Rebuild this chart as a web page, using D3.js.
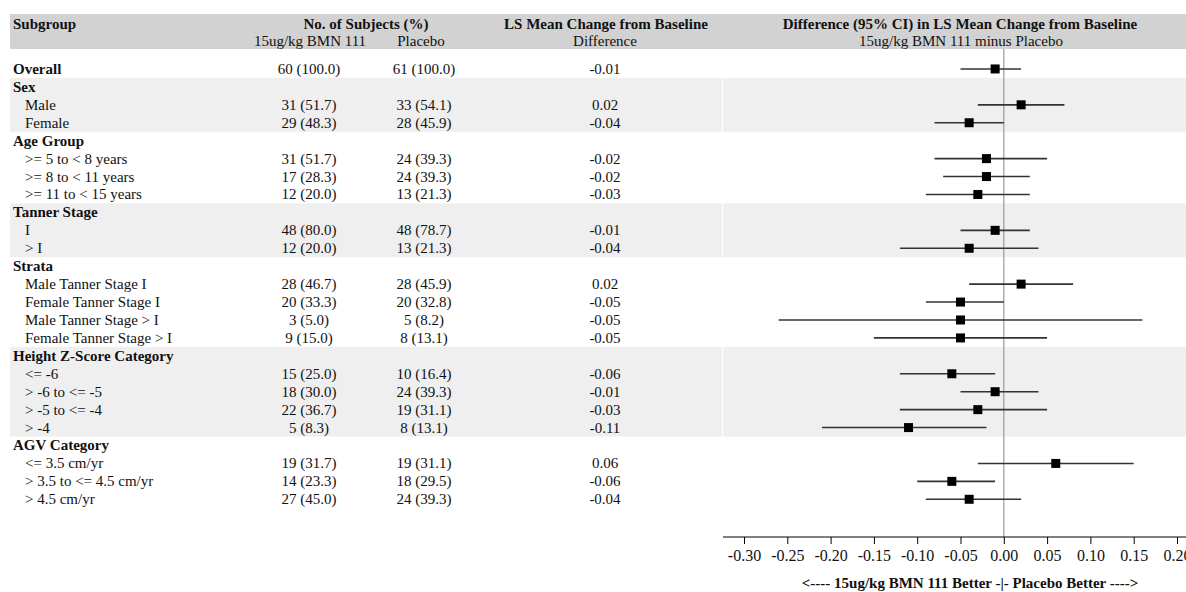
<!DOCTYPE html>
<html>
<head>
<meta charset="utf-8">
<script src="https://cdn.jsdelivr.net/npm/d3@7"></script>
<style>
  body { margin: 0; background: #fff; }
  svg { display: block; font-family: "Liberation Serif", "Times New Roman", serif; }
</style>
</head>
<body>
<svg width="1186" height="592"></svg>
<script>
// rows of the table, top to bottom
var subgroups = ["Overall", "Sex", "Male", "Female", "Age Group",
  ">= 5 to < 8 years", ">= 8 to < 11 years", ">= 11 to < 15 years",
  "Tanner Stage", "I", "> I", "Strata",
  "Male Tanner Stage I", "Female Tanner Stage I", "Male Tanner Stage > I", "Female Tanner Stage > I",
  "Height Z-Score Category", "<= -6", "> -6 to <= -5", "> -5 to <= -4", "> -4",
  "AGV Category", "<= 3.5 cm/yr", "> 3.5 to <= 4.5 cm/yr", "> 4.5 cm/yr"]
var boldRows = ["Overall", "Sex", "Age Group", "Tanner Stage", "Strata", "Height Z-Score Category", "AGV Category"]
var shadedGroups = [["Sex", "Female"], ["Tanner Stage", "> I"], ["Height Z-Score Category", "> -4"]]

var nDrug = ["60 (100.0)", "", "31 (51.7)", "29 (48.3)", "", "31 (51.7)", "17 (28.3)", "12 (20.0)",
  "", "48 (80.0)", "12 (20.0)", "", "28 (46.7)", "20 (33.3)", "3 (5.0)", "9 (15.0)",
  "", "15 (25.0)", "18 (30.0)", "22 (36.7)", "5 (8.3)", "", "19 (31.7)", "14 (23.3)", "27 (45.0)"]
var nPlacebo = ["61 (100.0)", "", "33 (54.1)", "28 (45.9)", "", "24 (39.3)", "24 (39.3)", "13 (21.3)",
  "", "48 (78.7)", "13 (21.3)", "", "28 (45.9)", "20 (32.8)", "5 (8.2)", "8 (13.1)",
  "", "10 (16.4)", "24 (39.3)", "19 (31.1)", "8 (13.1)", "", "19 (31.1)", "18 (29.5)", "24 (39.3)"]
var diff = [-0.01, null, 0.02, -0.04, null, -0.02, -0.02, -0.03,
  null, -0.01, -0.04, null, 0.02, -0.05, -0.05, -0.05,
  null, -0.06, -0.01, -0.03, -0.11, null, 0.06, -0.06, -0.04]
var lower = [-0.05, null, -0.03, -0.08, null, -0.08, -0.07, -0.09,
  null, -0.05, -0.12, null, -0.04, -0.09, -0.26, -0.15,
  null, -0.12, -0.05, -0.12, -0.21, null, -0.03, -0.10, -0.09]
var upper = [0.02, null, 0.07, 0.00, null, 0.05, 0.03, 0.03,
  null, 0.03, 0.04, null, 0.08, 0.00, 0.16, 0.05,
  null, -0.01, 0.04, 0.05, -0.02, null, 0.15, -0.01, 0.02]
var xTicks = [-0.30, -0.25, -0.20, -0.15, -0.10, -0.05, 0.00, 0.05, 0.10, 0.15, 0.20]

var svg = d3.select("svg")
var rows = subgroups.map((s, i) => ({ label: s, i: i, bold: boldRows.includes(s),
  n1: nDrug[i], n2: nPlacebo[i], est: diff[i], lo: lower[i], hi: upper[i] }))

var yScale = d3.scaleBand()
  .domain(d3.range(subgroups.length))
  .range([60, 60 + 17.93 * subgroups.length])
var xScale = d3.scaleLinear()
  .domain([-0.30, 0.20])
  .range([744, 1177])
var cy = i => yScale(i) + yScale.bandwidth() / 2

// header band
svg.append("rect")
  .attr("x", 10).attr("y", 14)
  .attr("width", 1176).attr("height", 35)
  .attr("fill", "#d2d2d2")

// shaded groups
shadedGroups.forEach(g => {
  var a = subgroups.indexOf(g[0]), b = subgroups.indexOf(g[1])
  svg.append("rect")
    .attr("x", 10).attr("y", yScale(a))
    .attr("width", 1176).attr("height", yScale(b) + yScale.bandwidth() - yScale(a))
    .attr("fill", "#efefef")
})
svg.append("line")
  .attr("x1", 722.5).attr("x2", 722.5)
  .attr("y1", 49).attr("y2", yScale(subgroups.length - 1))
  .attr("stroke", "#fff").attr("stroke-width", 1)

// header texts
var head = svg.append("g").attr("fill", "#111").attr("font-size", 15)
head.append("text").attr("x", 13).attr("y", 28.5).attr("font-weight", "bold").text("Subgroup")
head.append("text").attr("x", 366).attr("y", 28.5).attr("font-weight", "bold")
  .attr("text-anchor", "middle").text("No. of Subjects (%)")
head.append("text").attr("x", 310).attr("y", 46).attr("text-anchor", "middle").text("15ug/kg BMN 111")
head.append("text").attr("x", 421).attr("y", 46).attr("text-anchor", "middle").text("Placebo")
head.append("text").attr("x", 606).attr("y", 28.5).attr("font-weight", "bold")
  .attr("text-anchor", "middle").text("LS Mean Change from Baseline")
head.append("text").attr("x", 605).attr("y", 46).attr("text-anchor", "middle").text("Difference")
head.append("text").attr("x", 960).attr("y", 28.5).attr("font-weight", "bold")
  .attr("text-anchor", "middle").text("Difference (95% CI) in LS Mean Change from Baseline")
head.append("text").attr("x", 961).attr("y", 46).attr("text-anchor", "middle").text("15ug/kg BMN 111 minus Placebo")

// table body
var body = svg.append("g").attr("fill", "#111").attr("font-size", 15)
var rowG = body.selectAll("g.row").data(rows).enter().append("g")
  .attr("transform", d => "translate(0," + (cy(d.i) + 5) + ")")
rowG.append("text")
  .attr("x", d => d.bold ? 13 : 25)
  .attr("font-weight", d => d.bold ? "bold" : "normal")
  .text(d => d.label)
rowG.append("text").attr("x", 309).attr("text-anchor", "middle").text(d => d.n1)
rowG.append("text").attr("x", 424).attr("text-anchor", "middle").text(d => d.n2)
rowG.append("text").attr("x", 605).attr("text-anchor", "middle")
  .text(d => d.est == null ? "" : d.est.toFixed(2))

// reference line at zero
svg.append("line")
  .attr("x1", xScale(0)).attr("x2", xScale(0))
  .attr("y1", 49).attr("y2", 537)
  .attr("stroke", "#9a9a9a").attr("stroke-width", 1.2)

// CIs and estimates
var est = rows.filter(d => d.est != null)
svg.selectAll("line.ci").data(est).enter().append("line")
  .attr("x1", d => xScale(d.lo)).attr("x2", d => xScale(d.hi))
  .attr("y1", d => cy(d.i)).attr("y2", d => cy(d.i))
  .attr("stroke", "#333").attr("stroke-width", 1.6)
svg.selectAll("rect.pt").data(est).enter().append("rect")
  .attr("x", d => xScale(d.est) - 4.5).attr("y", d => cy(d.i) - 4.5)
  .attr("width", 9).attr("height", 9)
  .attr("fill", "#000")

// x axis
var axisG = svg.append("g")
  .attr("transform", "translate(0,537)")
  .call(d3.axisBottom(xScale).tickValues(xTicks).tickSize(7).tickPadding(6)
    .tickFormat(d => d.toFixed(2)))
axisG.select(".domain").remove()
axisG.append("line").attr("x1", 723).attr("x2", 1186).attr("stroke", "#000")
axisG.selectAll(".tick line").attr("stroke", "#000")
axisG.selectAll(".tick text")
  .attr("fill", "#111")
  .style("font-family", "'Liberation Serif', 'Times New Roman', serif")
  .style("font-size", "16px")

svg.append("text")
  .attr("x", 970).attr("y", 588)
  .attr("text-anchor", "middle")
  .attr("font-size", 15).attr("font-weight", "bold").attr("fill", "#111")
  .text("<---- 15ug/kg BMN 111 Better -|- Placebo Better ---->")
</script>
</body>
</html>
